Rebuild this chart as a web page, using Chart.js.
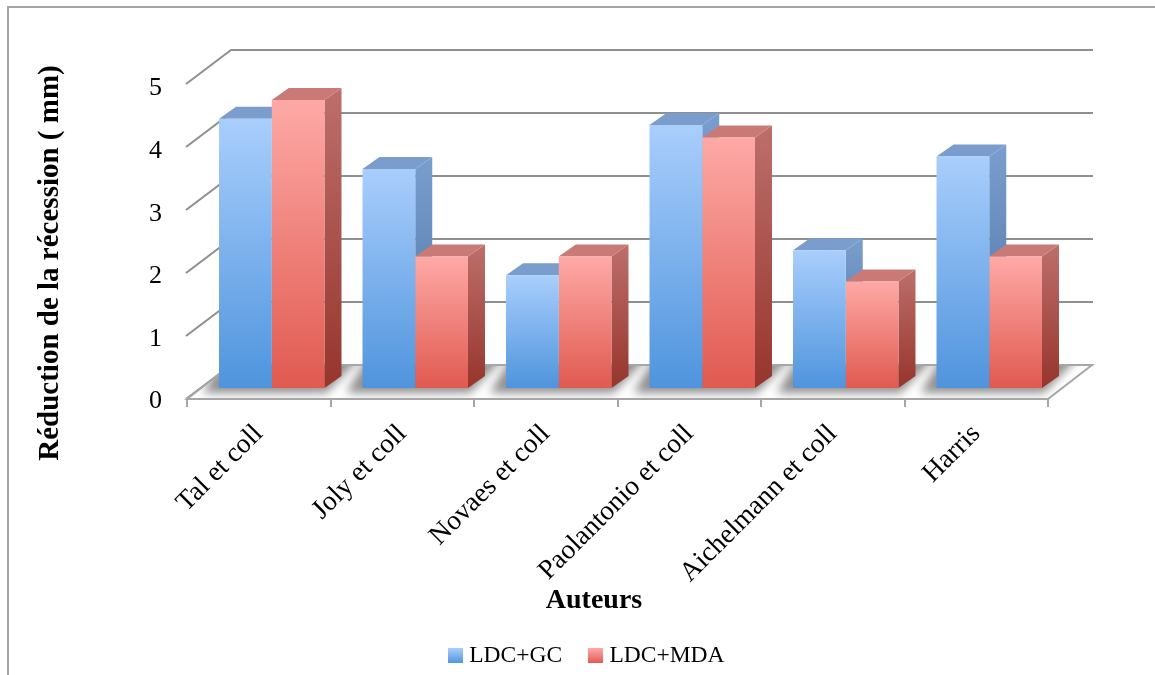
<!DOCTYPE html>
<html>
<head>
<meta charset="utf-8">
<style>
  html, body { margin: 0; padding: 0; background: #fff; overflow: hidden; }
  #wrap { position: relative; width: 1155px; height: 675px; }
  #frame { position: absolute; left: 7px; top: 6px; width: 1200px; height: 800px; border: 2px solid #a3a3a3; box-sizing: border-box; }
  canvas { position: absolute; left: 0; top: 0; }
</style>
</head>
<body>
<div id="wrap">
  <div id="frame"></div>
  <canvas id="chart" width="1155" height="675"></canvas>
</div>
<script src="https://cdn.jsdelivr.net/npm/chart.js@4/dist/chart.umd.min.js"></script>
<script>
// Réduction de la récession par auteur
const categories = ["Tal et coll", "Joly et coll", "Novaes et coll", "Paolantonio et coll", "Aichelmann et coll", "Harris"];
const ldcGc = [4.3, 3.5, 1.8, 4.2, 2.2, 3.7];
const ldcMda = [4.6, 2.1, 2.1, 4.0, 1.7, 2.1];
const yTicks = [0, 1, 2, 3, 4, 5];
const seriesNames = ["LDC+GC", "LDC+MDA"];
const xTitle = "Auteurs";
const yTitle = "Réduction de la récession ( mm)";

const SERIF = '"Liberation Serif", serif';

// Box projection: depth of the plot box and of the bars, in pixels.
const BOX_DX = 44, BOX_DY = 34;
const BAR_SHIFT_X = 13, BAR_SHIFT_Y = 11;
const BAR_DX = 17, BAR_DY = 12;
const WALL_STRETCH = 1.0064;

const palette = [
  { light: "#a9cefc", dark: "#4f94dd", top: "#7b9dce", sideLight: "#7a9fcf", sideDark: "#466f9f" },
  { light: "#fea9a6", dark: "#e05a50", top: "#c97a77", sideLight: "#bd6f6c", sideDark: "#96352c" }
];

function frontFill(seriesIndex) {
  return (ctx) => {
    const chart = ctx.chart;
    if (!chart.chartArea || ctx.raw === undefined) return palette[seriesIndex].light;
    const y = chart.scales.y;
    const g = chart.ctx.createLinearGradient(0, y.getPixelForValue(ctx.raw), 0, y.getPixelForValue(0));
    g.addColorStop(0, palette[seriesIndex].light);
    g.addColorStop(1, palette[seriesIndex].dark);
    return g;
  };
}

function swatch(seriesIndex) {
  const c = document.createElement("canvas");
  c.width = 15; c.height = 15;
  const x = c.getContext("2d");
  const g = x.createLinearGradient(0, 0, 0, 15);
  g.addColorStop(0, palette[seriesIndex].light);
  g.addColorStop(1, palette[seriesIndex].dark);
  x.fillStyle = g;
  x.fillRect(0, 0, 15, 15);
  return c;
}

function poly(ctx, pts) {
  ctx.beginPath();
  pts.forEach((p, i) => i ? ctx.lineTo(p[0], p[1]) : ctx.moveTo(p[0], p[1]));
  ctx.closePath();
}

// Back wall, left wall grid lines and floor, behind the axes.
const boxPlugin = {
  id: "box",
  beforeDraw(chart) {
    const { ctx, chartArea: a, scales } = chart;
    const y = scales.y;
    ctx.save();
    ctx.strokeStyle = "#8f8f8f";
    ctx.lineWidth = 2;
    yTicks.forEach((v) => {
      const py = a.bottom - (a.bottom - y.getPixelForValue(v)) * WALL_STRETCH;
      ctx.beginPath();
      ctx.moveTo(a.left - 1, py);
      ctx.lineTo(a.left + BOX_DX, py - BOX_DY);
      ctx.lineTo(a.right + BOX_DX + 1, py - BOX_DY);
      ctx.stroke();
    });
    const floor = [
      [a.left, a.bottom], [a.right, a.bottom],
      [a.right + BOX_DX, a.bottom - BOX_DY], [a.left + BOX_DX, a.bottom - BOX_DY]
    ];
    poly(ctx, floor);
    ctx.fillStyle = "#fff";
    ctx.fill();
    ctx.save();
    poly(ctx, floor);
    ctx.clip();
    const metas = [chart.getDatasetMeta(0), chart.getDatasetMeta(1)];
    ctx.filter = "blur(5px)";
    ctx.fillStyle = "#8f8f8f";
    metas[0].data.forEach((bar, i) => {
      const red = metas[1].data[i];
      const l = bar.x - bar.width / 2 + BAR_SHIFT_X;
      const r = red.x + red.width / 2 + BAR_SHIFT_X;
      const b = a.bottom - BAR_SHIFT_Y;
      poly(ctx, [[l - 16, b + 5], [r + 2, b + 5], [r + BAR_DX + 24, b - BAR_DY - 24], [l + 8, b - BAR_DY - 24]]);
      ctx.fill();
    });
    ctx.restore();
    poly(ctx, floor);
    ctx.strokeStyle = "#a6a6a6";
    ctx.lineWidth = 2;
    ctx.stroke();
    ctx.restore();
  },
  // Bars stand partway back in the box; side and top faces go first, the library draws the fronts.
  beforeDatasetsDraw(chart) {
    const { ctx } = chart;
    ctx.save();
    ctx.translate(BAR_SHIFT_X, -BAR_SHIFT_Y);
    [0, 1].forEach((s) => {
      chart.getDatasetMeta(s).data.forEach((bar) => {
        const l = bar.x - bar.width / 2, r = bar.x + bar.width / 2;
        const t = bar.y, b = bar.base;
        const g = ctx.createLinearGradient(0, t - BAR_DY, 0, b);
        g.addColorStop(0, palette[s].sideLight);
        g.addColorStop(1, palette[s].sideDark);
        poly(ctx, [[r, t], [r + BAR_DX, t - BAR_DY], [r + BAR_DX, b - BAR_DY], [r, b]]);
        ctx.fillStyle = g;
        ctx.fill();
        poly(ctx, [[l, t], [r, t], [r + BAR_DX, t - BAR_DY], [l + BAR_DX, t - BAR_DY]]);
        ctx.fillStyle = palette[s].top;
        ctx.fill();
      });
    });
  },
  afterDatasetsDraw(chart) {
    chart.ctx.restore();
  },
  // Legend sits lower and further right than its default slot.
  afterLayout(chart) {
    const lg = chart.legend;
    const shiftX = 589 - (lg.left + lg.right) / 2;
    lg.left += shiftX; lg.right += shiftX;
    const shiftY = 645 - (lg.top + lg.bottom) / 2;
    lg.top += shiftY; lg.bottom += shiftY;
  },
  // Axis titles are centred on the whole box rather than the front plane.
  afterDraw(chart) {
    const { ctx } = chart;
    ctx.save();
    ctx.fillStyle = "#000";
    ctx.textAlign = "center";
    ctx.textBaseline = "middle";
    ctx.font = "bold 28px " + SERIF;
    ctx.fillText(xTitle, 594, 601);
    ctx.font = "bold 29px " + SERIF;
    ctx.translate(51, 263);
    ctx.rotate(-Math.PI / 2);
    ctx.fillText(yTitle, 0, 0);
    ctx.restore();
  }
};

new Chart(document.getElementById("chart"), {
  type: "bar",
  data: {
    labels: categories,
    datasets: [
      { label: seriesNames[0], data: ldcGc, backgroundColor: frontFill(0), borderWidth: 0, clip: false },
      { label: seriesNames[1], data: ldcMda, backgroundColor: frontFill(1), borderWidth: 0, clip: false }
    ]
  },
  options: {
    responsive: false,
    animation: false,
    layout: { padding: { left: 0, right: 107, top: 86, bottom: 0 } },
    datasets: { bar: { categoryPercentage: 0.735, barPercentage: 1 } },
    plugins: {
      tooltip: { enabled: false },
      legend: {
        position: "bottom",
        labels: {
          usePointStyle: true,
          pointStyleWidth: 4,
          boxHeight: 15,
          padding: 31.5,
          color: "#000",
          font: { family: SERIF, size: 23.5 },
          generateLabels(chart) {
            return Chart.defaults.plugins.legend.labels.generateLabels(chart).map((item, i) => {
              item.pointStyle = swatch(i);
              return item;
            });
          }
        }
      }
    },
    scales: {
      x: {
        type: "category",
        afterFit(scale) { scale.height = 675 - 399 - scale.chart.legend.height; },
        grid: { offset: true, drawOnChartArea: false, drawTicks: true, tickLength: 8, color: "#a6a6a6", lineWidth: 2 },
        border: { display: true, color: "#a6a6a6", width: 2 },
        ticks: {
          autoSkip: false, minRotation: 45, maxRotation: 45, padding: 11,
          color: "#000", font: { family: SERIF, size: 27.5 }
        }
      },
      y: {
        type: "linear",
        min: yTicks[0],
        max: yTicks[yTicks.length - 1],
        afterFit(scale) { scale.width = 187; },
        afterBuildTicks(scale) { scale.ticks = yTicks.map((v) => ({ value: v })); },
        grid: { display: false, drawTicks: false },
        border: { display: false },
        ticks: {
          padding: 25, color: "#000",
          // Blank first line nudges the digits down to sit level with the front edge.
          callback: (v) => ["", String(v)],
          font: { family: SERIF, size: 26, lineHeight: "5px" }
        }
      }
    }
  },
  plugins: [boxPlugin]
});
</script>
</body>
</html>
